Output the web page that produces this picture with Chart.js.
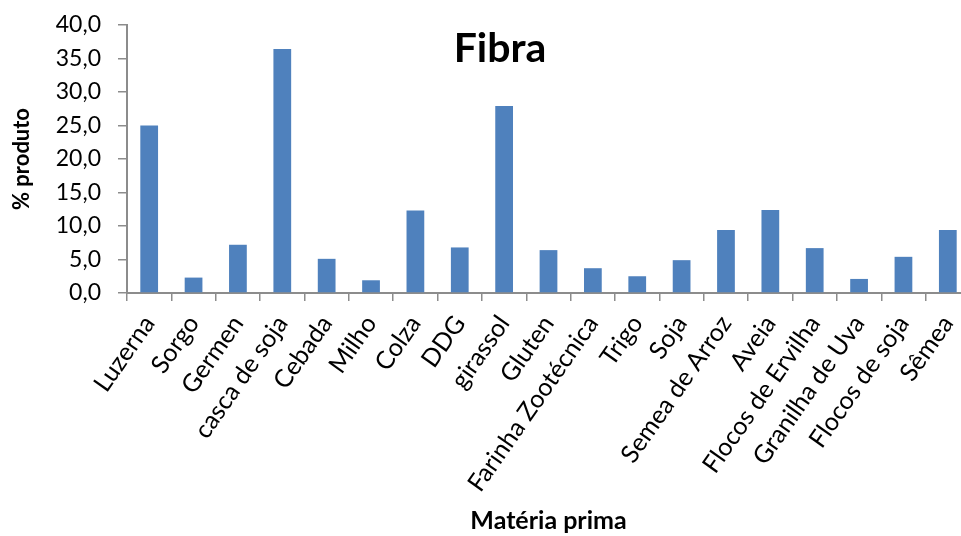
<!DOCTYPE html>
<html>
<head>
<meta charset="utf-8">
<script src="https://cdn.jsdelivr.net/npm/chart.js@4/dist/chart.umd.min.js"></script>
<style>
  html, body { margin: 0; padding: 0; background: #fff; overflow: hidden; }
  #wrap { width: 970px; height: 536px; position: relative; }
</style>
</head>
<body>
<div id="wrap"><canvas id="c"></canvas></div>
<script>
// Raw materials and their fibre content (% of product)
const categories = [
  'Luzerna', 'Sorgo', 'Germen', 'casca de soja', 'Cebada', 'Milho', 'Colza', 'DDG',
  'girassol', 'Gluten', 'Farinha Zootécnica', 'Trigo', 'Soja', 'Semea de Arroz',
  'Aveia', 'Flocos de Ervilha', 'Granilha de Uva', 'Flocos de soja', 'Sêmea'
];
const fibra = [25.0, 2.3, 7.2, 36.4, 5.1, 1.9, 12.3, 6.8, 27.9, 6.4, 3.7, 2.5, 4.9, 9.4, 12.4, 6.7, 2.1, 5.4, 9.4];
const yMin = 0, yMax = 40, yStep = 5;

const chartTitle = 'Fibra';
const xTitle = 'Matéria prima';
const yTitle = '% produto';

const FONT = 'Lato, "Open Sans", sans-serif';
const AXIS_GREY = '#8c8c8c';

// Title drawn over the plot, as in the spreadsheet layout
const overlayTitle = {
  id: 'overlayTitle',
  afterDraw(chart) {
    const ctx = chart.ctx;
    ctx.save();
    ctx.font = 'bold 41px ' + FONT;
    ctx.fillStyle = '#000';
    ctx.textAlign = 'center';
    ctx.textBaseline = 'alphabetic';
    ctx.fillText(chartTitle, 500, 62);
    ctx.restore();
  }
};

new Chart(document.getElementById('c'), {
  type: 'bar',
  data: {
    labels: categories,
    datasets: [{
      label: chartTitle,
      data: fibra,
      backgroundColor: '#4F81BD',
      borderWidth: 0,
      categoryPercentage: 1.0,
      barPercentage: 0.4
    }]
  },
  options: {
    responsive: true,
    maintainAspectRatio: false,
    animation: false,
    layout: { padding: { top: 25, left: 0, right: 0, bottom: 0 } },
    plugins: {
      legend: { display: false },
      tooltip: { enabled: false },
      title: { display: false }
    },
    scales: {
      x: {
        grid: { display: true, drawOnChartArea: false, drawTicks: true, tickLength: 8, color: AXIS_GREY, lineWidth: 1.5, offset: true },
        border: { display: true, color: AXIS_GREY, width: 2 },
        ticks: {
          color: '#000',
          font: { family: FONT, size: 25 },
          minRotation: 55,
          maxRotation: 55,
          autoSkip: false,
          padding: 9
        },
        title: {
          display: true,
          text: xTitle,
          color: '#000',
          font: { family: FONT, size: 25, weight: 'bold' },
          padding: { top: 0, bottom: 0 }
        },
        afterFit(scale) {
          scale.height = 243;
          scale.paddingLeft = 0;
          scale.paddingRight = 0;
        }
      },
      y: {
        min: yMin,
        max: yMax,
        grid: { display: true, drawOnChartArea: false, drawTicks: true, tickLength: 9, color: AXIS_GREY, lineWidth: 1.5 },
        border: { display: true, color: AXIS_GREY, width: 2 },
        ticks: {
          stepSize: yStep,
          color: '#000',
          font: { family: FONT, size: 23 },
          padding: 17,
          callback: (v) => Number(v).toFixed(1).replace('.', ',')
        },
        title: {
          display: true,
          text: yTitle,
          color: '#000',
          font: { family: FONT, size: 22, weight: 'bold' },
          padding: { top: 9, bottom: 0 }
        },
        afterFit(scale) {
          scale.width = 127;
          scale.paddingTop = 0;
          scale.paddingBottom = 0;
        }
      }
    }
  },
  plugins: [overlayTitle]
});
</script>
</body>
</html>
